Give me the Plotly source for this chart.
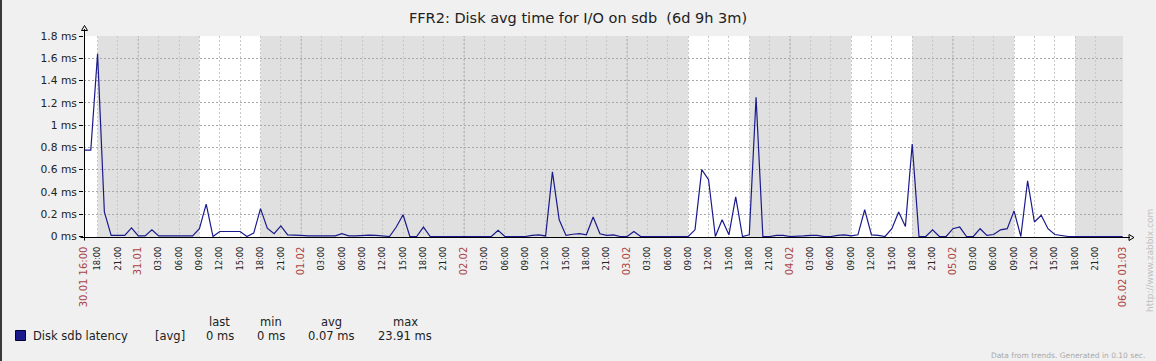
import plotly.graph_objects as go
import pandas as pd

# ---------------- data ----------------
START = "2014-01-30 16:00"
END = "2014-02-06 01:03"

# hourly averages of disk sdb latency (ms), starting at START
latency_ms = [
    0.775, 0.775, 1.64, 0.22, 0.01, 0.01, 0.01, 0.077, 0.005, 0.005,
    0.06, 0.005, 0.005, 0.005, 0.005, 0.005, 0.005, 0.07, 0.29, 0.0,
    0.045, 0.045, 0.045, 0.045, 0.0, 0.03, 0.25, 0.075, 0.025, 0.095,
    0.015, 0.015, 0.01, 0.005, 0.005, 0.005, 0.005, 0.005, 0.025, 0.005,
    0.005, 0.01, 0.012, 0.01, 0.005, 0.0, 0.085, 0.195, 0.0, 0.0,
    0.085, 0.0, 0.0, 0.0, 0.0, 0.0, 0.0, 0.0, 0.0, 0.0,
    0.0, 0.055, 0.0, 0.0, 0.0, 0.0, 0.01, 0.015, 0.005, 0.58,
    0.15, 0.01, 0.02, 0.025, 0.015, 0.175, 0.025, 0.01, 0.015, 0.0,
    0.0, 0.045, 0.0, 0.0, 0.0, 0.0, 0.0, 0.0, 0.0, 0.0,
    0.06, 0.6, 0.51, 0.0, 0.15, 0.015, 0.355, 0.0, 0.015, 1.25,
    0.0, 0.0, 0.01, 0.01, 0.0, 0.0, 0.005, 0.01, 0.01, 0.0,
    0.0, 0.01, 0.015, 0.005, 0.015, 0.24, 0.015, 0.01, 0.0, 0.07,
    0.22, 0.09, 0.83, 0.0, 0.0, 0.06, 0.0, 0.0, 0.07, 0.085,
    0.0, 0.0, 0.07, 0.01, 0.018, 0.06, 0.07, 0.23, 0.0, 0.5,
    0.13, 0.19, 0.07, 0.018, 0.01, 0.0, 0.0, 0.0, 0.0, 0.0,
    0.0, 0.0, 0.0, 0.0,
]

x_tick_labels = [
    "30.01 16:00", "18:00", "21:00",
    "31.01", "03:00", "06:00", "09:00", "12:00", "15:00", "18:00", "21:00",
    "01.02", "03:00", "06:00", "09:00", "12:00", "15:00", "18:00", "21:00",
    "02.02", "03:00", "06:00", "09:00", "12:00", "15:00", "18:00", "21:00",
    "03.02", "03:00", "06:00", "09:00", "12:00", "15:00", "18:00", "21:00",
    "04.02", "03:00", "06:00", "09:00", "12:00", "15:00", "18:00", "21:00",
    "05.02", "03:00", "06:00", "09:00", "12:00", "15:00", "18:00", "21:00",
    "06.02 01:03",
]

y_tick_values = [0, 0.2, 0.4, 0.6, 0.8, 1.0, 1.2, 1.4, 1.6, 1.8]
y_tick_labels = ["0 ms", "0.2 ms", "0.4 ms", "0.6 ms", "0.8 ms", "1 ms",
                 "1.2 ms", "1.4 ms", "1.6 ms", "1.8 ms"]

# non-working time (grey background)
nonwork_periods = [
    ("2014-01-30 18:00", "2014-01-31 09:00"),
    ("2014-01-31 18:00", "2014-02-03 09:00"),
    ("2014-02-03 18:00", "2014-02-04 09:00"),
    ("2014-02-04 18:00", "2014-02-05 09:00"),
    ("2014-02-05 18:00", END),
]
day_starts = ["2014-01-31", "2014-02-01", "2014-02-02", "2014-02-03",
              "2014-02-04", "2014-02-05"]

title_text = "FFR2: Disk avg time for I/O on sdb\u00a0\u00a0(6d 9h 3m)"
series_name = "Disk sdb latency"
legend_func = "[avg]"
legend_headers = ["last", "min", "avg", "max"]
legend_values = ["0 ms", "0 ms", "0.07 ms", "23.91 ms"]

# ---------------- layout geometry ----------------
W_IMG, H_IMG = 1156, 361
L, R, T, B = 84, 33, 36, 124
PW = W_IMG - L - R
PH = H_IMG - T - B
AXIS_Y = T + PH  # pixel row of the x axis


def fx(p):
    return (p - L) / PW


def fy(p):
    return (AXIS_Y - p) / PH


FONT = "DejaVu Sans"
NAVY = "#1a1a8c"
RED = "#aa4444"

times = pd.date_range(START, periods=len(latency_ms), freq="h")
tick_times = ([pd.Timestamp(START)]
              + list(pd.date_range("2014-01-30 18:00", periods=len(x_tick_labels) - 2, freq="3h"))
              + [pd.Timestamp(END)])
tick_text = []
for lab in x_tick_labels:
    if "." in lab:
        tick_text.append(f'<span style="color:{RED};font-size:10px">{lab}</span>')
    else:
        tick_text.append(lab)

fig = go.Figure()
fig.add_trace(go.Scatter(
    x=times, y=latency_ms, mode="lines",
    line=dict(color=NAVY, width=1.2),
    showlegend=False, hoverinfo="skip",
))

shapes = []
for a, b in nonwork_periods:
    shapes.append(dict(type="rect", xref="x", yref="paper", x0=a, x1=b, y0=0, y1=1,
                       fillcolor="#e0e0e0", line=dict(width=0), layer="below"))
for d in day_starts:
    shapes.append(dict(type="line", xref="x", yref="paper", x0=d, x1=d, y0=0, y1=1,
                       line=dict(color="#a0a0a0", width=1, dash="2px,2px"), layer="between"))

# axes with arrows
shapes.append(dict(type="line", xref="paper", yref="paper",
                   x0=fx(84.5), x1=fx(84.5), y0=fy(240.5), y1=fy(29),
                   line=dict(color="black", width=1), layer="above"))
shapes.append(dict(type="line", xref="paper", yref="paper",
                   x0=fx(80.5), x1=fx(1130), y0=fy(237.5), y1=fy(237.5),
                   line=dict(color="black", width=1), layer="above"))
shapes.append(dict(type="path", xref="paper", yref="paper",
                   path=f"M {fx(84.5)} {fy(25.5)} L {fx(81.5)} {fy(30.5)} L {fx(87.5)} {fy(30.5)} Z",
                   line=dict(color="black", width=1), fillcolor="rgba(0,0,0,0)", layer="above"))
shapes.append(dict(type="path", xref="paper", yref="paper",
                   path=f"M {fx(1134)} {fy(237.5)} L {fx(1129)} {fy(234.5)} L {fx(1129)} {fy(240.5)} Z",
                   line=dict(color="black", width=1), fillcolor="rgba(0,0,0,0)", layer="above"))
# left border of image
shapes.append(dict(type="rect", xref="paper", yref="paper",
                   x0=fx(0), x1=fx(2), y0=fy(H_IMG), y1=fy(0),
                   fillcolor="#3a3a3a", line=dict(width=0), layer="above"))
# legend colour square
shapes.append(dict(type="rect", xref="paper", yref="paper",
                   x0=fx(15.5), x1=fx(25.5), y0=fy(340.5), y1=fy(330.5),
                   fillcolor=NAVY, line=dict(color="#000033", width=1), layer="above"))

annotations = []


def ann(text, xp, yp, size, color="#222222", xanchor="center", angle=0):
    annotations.append(dict(text=text, xref="paper", yref="paper", x=fx(xp), y=fy(yp),
                            xanchor=xanchor, yanchor="middle", showarrow=False,
                            textangle=angle, font=dict(family=FONT, size=size, color=color)))


ann(series_name, 31, 336, 11.5, xanchor="left")
ann(legend_func, 153, 336, 11.5, xanchor="left")
col_x = [219.5, 270.5, 331, 405]
for cx, h, v in zip(col_x, legend_headers, legend_values):
    ann(h, cx, 321.5, 11.5)
    ann(v, cx, 336, 11.5)
ann("Data from trends. Generated in 0.10 sec.", 1147, 355, 7.5, color="#a8a8a8", xanchor="right")
ann("http://www.zabbix.com", 1150, 261, 9, color="#c0c0c0", angle=-90)

fig.update_layout(
    width=W_IMG, height=H_IMG,
    margin=dict(l=L, r=R, t=T, b=B, pad=0),
    paper_bgcolor="#f0f0f0", plot_bgcolor="#ffffff",
    font=dict(family=FONT, color="#222222"),
    title=dict(text=title_text, x=0.5, xref="container", y=1 - 18 / H_IMG, yref="container",
               xanchor="center", yanchor="middle",
               font=dict(family=FONT, size=14.5, color="#222222")),
    xaxis=dict(range=[START, END], tickmode="array", tickvals=tick_times, ticktext=tick_text,
               tickangle=-90, tickfont=dict(family=FONT, size=8.3, color="#222222"),
               showgrid=True, gridcolor="#c8c8c8", griddash="2px,2px", gridwidth=1,
               ticks="", showline=False, zeroline=False, ticklabelstandoff=7),
    yaxis=dict(range=[-0.0045, 1.8], tickmode="array", tickvals=y_tick_values, ticktext=y_tick_labels,
               tickfont=dict(family=FONT, size=10.7, color="#222222"),
               showgrid=True, gridcolor="#a8a8a8", griddash="2px,2px", gridwidth=1,
               ticks="outside", ticklen=4, tickcolor="black", showline=False, zeroline=False),
    shapes=shapes, annotations=annotations,
)

fig.write_html(
    "out.html",
    config={"displayModeBar": False},
    post_script="document.body.style.margin='0px';document.body.style.padding='0px';",
)
